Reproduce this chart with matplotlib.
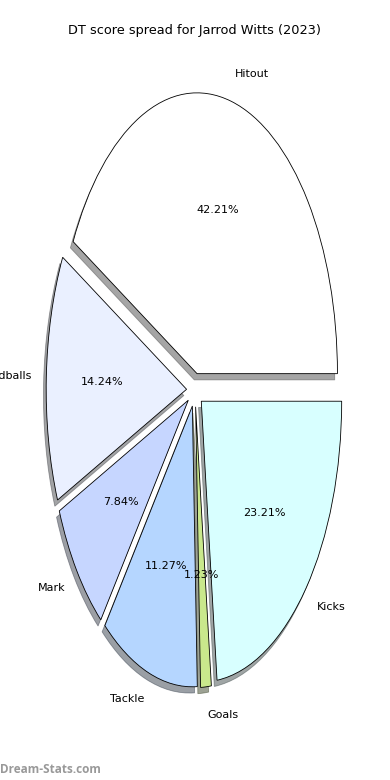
import matplotlib
matplotlib.use("Agg")
import matplotlib.pyplot as plt

categories = ["Hitout", "Handballs", "Mark", "Tackle", "Goals", "Kicks"]
values = [42.21, 14.24, 7.84, 11.27, 1.23, 23.21]
colors = ["#ffffff", "#eaf0ff", "#c6d6ff", "#b5d6ff", "#c9e88c", "#d8ffff"]
explode = [0.06] * len(values)

fig = plt.figure(figsize=(3.9, 7.8), dpi=100)
ax = fig.add_axes([0.05, 0.05, 0.9, 0.9])
wedges, texts, autotexts = ax.pie(
    values, labels=categories, colors=colors, explode=explode,
    autopct="%1.2f%%", shadow={"ox": -0.014, "oy": -0.016}, startangle=0,
    wedgeprops=dict(edgecolor="black", linewidth=0.6),
    textprops=dict(fontsize=8),
)
ax.set_aspect("auto")
ax.set_xlim(-1.25, 1.25)
ax.set_ylim(-1.25, 1.25)
ax.set_title("DT score spread for Jarrod Witts (2023)", fontsize=9.3, pad=3.5)
fig.text(0.0, 0.005, "Dream-Stats.com", fontsize=8.5, color="#999999",
         fontweight="bold", family=["Open Sans", "DejaVu Sans"], ha="left", va="bottom")
fig.savefig("out.png", dpi=100)
